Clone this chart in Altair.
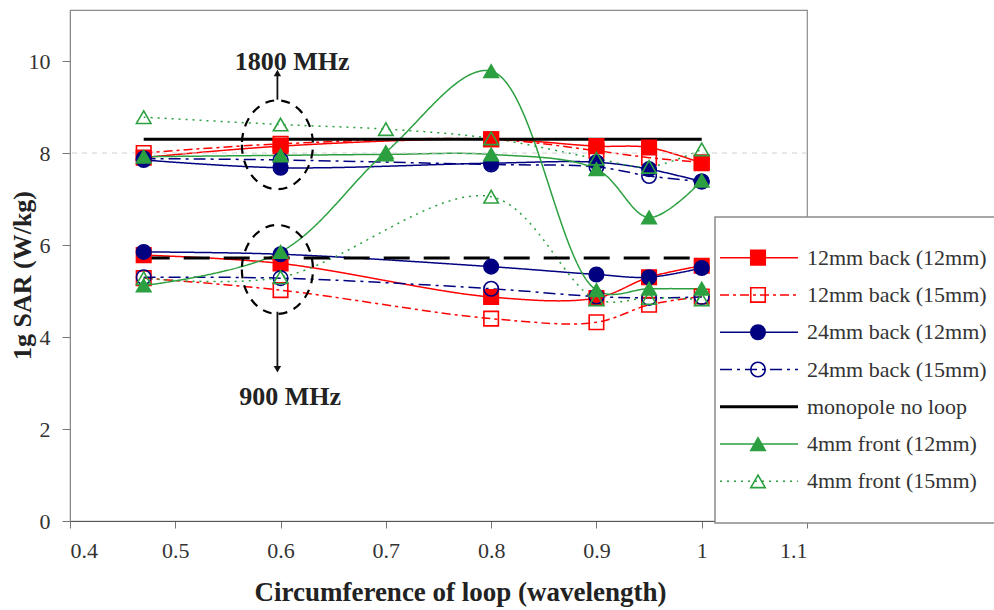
import altair as alt
import pandas as pd

# ---------------- data ----------------
series = [
    "12mm back (12mm)",
    "12mm back (15mm)",
    "24mm back (12mm)",
    "24mm back (15mm)",
    "monopole no loop",
    "4mm front (12mm)",
    "4mm front (15mm)",
]

x_common = [0.47, 0.6, 0.8, 0.9, 0.95, 1.0]
x_with_07 = [0.47, 0.6, 0.7, 0.8, 0.9, 0.95, 1.0]
x_monopole = [0.47, 1.0]

# 1800 MHz group (upper curves)
sar_1800 = {
    "12mm back (12mm)": [7.9, 8.15, 8.3, 8.15, 8.12, 7.78],
    "12mm back (15mm)": [8.0, 8.2, 8.3, 8.05, 7.9, 7.8],
    "24mm back (12mm)": [7.85, 7.68, 7.78, 7.8, 7.65, 7.38],
    "24mm back (15mm)": [7.88, 7.85, 7.75, 7.7, 7.5, 7.38],
    "monopole no loop": [8.3, 8.3],
    "4mm front (12mm)": [7.92, 7.95, 7.97, 7.97, 7.65, 6.6, 7.4],
    "4mm front (15mm)": [8.78, 8.62, 8.52, 8.32, 7.88, 7.7, 8.08],
}
x_1800 = {
    "12mm back (12mm)": x_common,
    "12mm back (15mm)": x_common,
    "24mm back (12mm)": x_common,
    "24mm back (15mm)": x_common,
    "monopole no loop": x_monopole,
    "4mm front (12mm)": x_with_07,
    "4mm front (15mm)": x_with_07,
}

# 900 MHz group (lower curves)
sar_900 = {
    "12mm back (12mm)": [5.78, 5.6, 4.87, 4.85, 5.3, 5.55],
    "12mm back (15mm)": [5.28, 5.02, 4.4, 4.32, 4.7, 4.88],
    "24mm back (12mm)": [5.85, 5.8, 5.53, 5.36, 5.3, 5.5],
    "24mm back (15mm)": [5.3, 5.28, 5.05, 4.88, 4.85, 4.87],
    "monopole no loop": [5.72, 5.72],
    "4mm front (12mm)": [5.12, 5.85, 8.02, 9.78, 5.02, 5.05, 5.05],
    "4mm front (15mm)": [5.28, 5.3, 7.05, 4.82, 4.85, 4.82],
}
x_900 = {
    "12mm back (12mm)": x_common,
    "12mm back (15mm)": x_common,
    "24mm back (12mm)": x_common,
    "24mm back (15mm)": x_common,
    "monopole no loop": x_monopole,
    "4mm front (12mm)": x_with_07,
    "4mm front (15mm)": x_common,
}

x_ticks = [0.4, 0.5, 0.6, 0.7, 0.8, 0.9, 1.0, 1.1]
y_ticks = [0, 2, 4, 6, 8, 10]
grid_y = [8]

band_labels = ["1800 MHz", "900 MHz"]
label_x = [0.611, 0.609]
label_y = [9.98, 2.7]
ring_x = [0.597, 0.597]
ring_y = [8.18, 5.47]
arrow_x = [0.597, 0.597]
arrow_from = [9.16, 4.55]
arrow_to = [9.74, 3.3]

# ---------------- styles ----------------
RED, NAVY, BLACK, GREEN = "#FF0000", "#000080", "#000000", "#2CA040"
stroke_range = [RED, RED, NAVY, NAVY, BLACK, GREEN, GREEN]
fill_range = [RED, "transparent", NAVY, "transparent", "transparent", GREEN, "transparent"]
shape_range = ["square", "square", "circle", "circle", "circle", "triangle-up", "triangle-up"]
mono900 = "monopole no loop 900"
dash_domain = series + [mono900]
dash_range = [[1, 0], [9, 4, 3, 4], [1, 0], [12, 5, 3, 5], [1, 0], [1, 0], [2, 5], [26, 14]]

stroke_scale = alt.Scale(domain=series, range=stroke_range)
fill_scale = alt.Scale(domain=series, range=fill_range)
shape_scale = alt.Scale(domain=series, range=shape_range)
dash_scale = alt.Scale(domain=dash_domain, range=dash_range)

rows = []
for band, sar, xs in (("1800", sar_1800, x_1800), ("900", sar_900, x_900)):
    for s in series:
        for xv, yv in zip(xs[s], sar[s]):
            dash = mono900 if (s == "monopole no loop" and band == "900") else s
            rows.append({"series": s, "band": band, "key": s + " " + band,
                         "x": xv, "y": yv, "dash": dash})
df = pd.DataFrame(rows)

xscale = alt.Scale(domain=[0.4, 1.1], nice=False, zero=False)
yscale = alt.Scale(domain=[0, 11.11], nice=False)
SERIF = "Liberation Serif"

x_enc = alt.X(
    "x:Q", scale=xscale,
    axis=alt.Axis(values=x_ticks, format="~g", title="Circumference of loop (wavelength)",
                  grid=False, domainColor="#555", tickColor="#777", tickSize=7,
                  labelFont=SERIF, labelFontSize=22, labelColor="#333", labelPadding=12,
                  titleFont=SERIF, titleFontSize=27, titleFontWeight="bold", titleColor="#222",
                  titleX=390, titleY=71, titleBaseline="middle", titleAlign="center"),
)
y_enc = alt.Y(
    "y:Q", scale=yscale,
    axis=alt.Axis(values=y_ticks, format="d", title="1g SAR (W/kg)",
                  grid=False, domainColor="#888", tickColor="#777", tickSize=8,
                  labelFont=SERIF, labelFontSize=22, labelColor="#333", labelPadding=12,
                  titleFont=SERIF, titleFontSize=26, titleFontWeight="bold", titleColor="#222",
                  titleAngle=270, titleX=-48, titleY=265, titleBaseline="middle",
                  titleAlign="center"),
)

thin_lines = alt.Chart(df).transform_filter(
    alt.datum.series != "monopole no loop"
).mark_line(interpolate="catmull-rom", strokeWidth=1.5).encode(
    x=x_enc, y=y_enc,
    stroke=alt.Stroke("series:N", scale=stroke_scale, legend=None),
    strokeDash=alt.StrokeDash("dash:N", scale=dash_scale, legend=None),
    detail="key:N",
)

grid = alt.Chart(pd.DataFrame({"y": grid_y})).mark_rule(
    color="#cfcfcf", strokeDash=[5, 5], strokeWidth=1
).encode(y=alt.Y("y:Q", scale=yscale))

mono_lines = alt.Chart(df).transform_filter(
    alt.datum.series == "monopole no loop"
).mark_line(strokeWidth=3).encode(
    x=alt.X("x:Q", scale=xscale), y=alt.Y("y:Q", scale=yscale),
    stroke=alt.Stroke("series:N", scale=stroke_scale, legend=None),
    strokeDash=alt.StrokeDash("dash:N", scale=dash_scale, legend=None),
    detail="key:N",
)

points = alt.Chart(df).transform_filter(
    alt.datum.series != "monopole no loop"
).mark_point(filled=True, size=210, strokeWidth=1.6, opacity=1).encode(
    x=alt.X("x:Q", scale=xscale), y=alt.Y("y:Q", scale=yscale),
    shape=alt.Shape("series:N", scale=shape_scale, legend=None),
    stroke=alt.Stroke("series:N", scale=stroke_scale, legend=None),
    fill=alt.Fill("series:N", scale=fill_scale, legend=None),
)

ann = pd.DataFrame({
    "label": band_labels, "lx": label_x, "ly": label_y,
    "rx": ring_x, "ry": ring_y, "ax": arrow_x, "a0": arrow_from, "a1": arrow_to,
})

ellipse_path = "M -0.8 0 A 0.8 1 0 1 0 0.8 0 A 0.8 1 0 1 0 -0.8 0 Z"
rings = alt.Chart(ann).mark_point(
    shape=ellipse_path, size=7900, filled=False, color=BLACK, opacity=1,
    strokeWidth=2.2, strokeDash=[9, 7]
).encode(x=alt.X("rx:Q", scale=xscale), y=alt.Y("ry:Q", scale=yscale))

arrows = alt.Chart(ann).mark_rule(color="#111", strokeWidth=1.8).encode(
    x=alt.X("ax:Q", scale=xscale), y=alt.Y("a0:Q", scale=yscale), y2="a1:Q"
)
head_up = alt.Chart(ann).transform_filter(alt.datum.label == "1800 MHz").mark_point(
    shape="triangle-up", size=55, filled=True, color="#111", opacity=1
).encode(x=alt.X("ax:Q", scale=xscale), y=alt.Y("a1:Q", scale=yscale))
head_down = alt.Chart(ann).transform_filter(alt.datum.label == "900 MHz").mark_point(
    shape="triangle-down", size=55, filled=True, color="#111", opacity=1
).encode(x=alt.X("ax:Q", scale=xscale), y=alt.Y("a1:Q", scale=yscale))

labels = alt.Chart(ann).mark_text(
    font=SERIF, fontSize=26, fontWeight="bold", color="#222", baseline="middle"
).encode(x=alt.X("lx:Q", scale=xscale), y=alt.Y("ly:Q", scale=yscale), text="label:N")

main = alt.layer(thin_lines, grid, mono_lines, points, rings, arrows, head_up, head_down, labels)

# ---------------- legend ----------------
leg_df = pd.DataFrame({"series": series})
leg_y = alt.Y("series:N", scale=alt.Scale(domain=series, range=[229, 490], padding=0), axis=None)

leg_box = alt.Chart(pd.DataFrame({"b": [0]})).mark_rect(
    fill="white", stroke="#8a8a8a", strokeWidth=1.5
).encode(x=alt.value(645), x2=alt.value(935), y=alt.value(207), y2=alt.value(513))

leg_lines = alt.Chart(leg_df).mark_rule().encode(
    x=alt.value(650), x2=alt.value(728), y=leg_y,
    stroke=alt.Stroke("series:N", scale=stroke_scale, legend=None),
    strokeDash=alt.StrokeDash("series:N", scale=dash_scale, legend=None),
    strokeWidth=alt.condition(alt.datum.series == "monopole no loop", alt.value(3), alt.value(1.5)),
)
leg_marks = alt.Chart(leg_df).transform_filter(
    alt.datum.series != "monopole no loop"
).mark_point(filled=True, size=210, strokeWidth=1.6, opacity=1).encode(
    x=alt.value(688), y=leg_y,
    shape=alt.Shape("series:N", scale=shape_scale, legend=None),
    stroke=alt.Stroke("series:N", scale=stroke_scale, legend=None),
    fill=alt.Fill("series:N", scale=fill_scale, legend=None),
)
leg_text = alt.Chart(leg_df).mark_text(
    font=SERIF, fontSize=22, color="#333", align="left", baseline="middle"
).encode(x=alt.value(737), y=leg_y, text="series:N")

legend = alt.layer(leg_box, leg_lines, leg_marks, leg_text)

chart = alt.layer(main, legend).resolve_scale(y="independent").properties(
    width=737, height=511,
    autosize=alt.AutoSizeParams(type="none"),
    padding={"left": 70, "top": 10, "right": 187, "bottom": 89},
    background="white",
).configure_view(stroke="#8c8c8c", strokeWidth=1.2)

chart.save("out.html", embed_options={"renderer": "svg", "actions": False})
